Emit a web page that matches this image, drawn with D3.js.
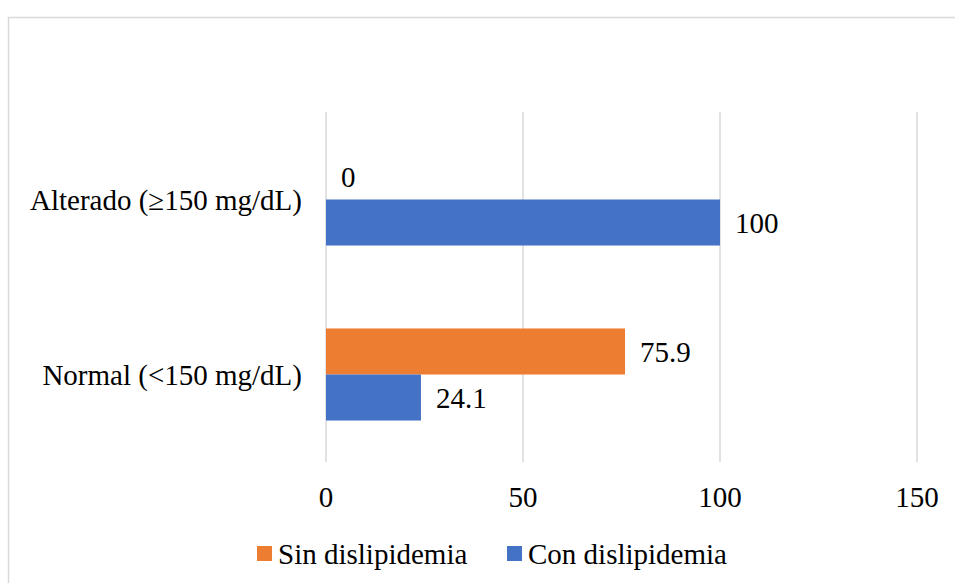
<!DOCTYPE html>
<html>
<head>
<meta charset="utf-8">
<script src="https://cdn.jsdelivr.net/npm/d3@7"></script>
<style>
	body { margin:0; background:#fff; }
</style>
</head>
<body>
<div id="chart"></div>
<script>
(function(){
	var width = 955,
	height = 583;

	// data
	var categories = ["Alterado (\u2265150 mg/dL)", "Normal (<150 mg/dL)"];
	var seriesNames = ["Sin dislipidemia", "Con dislipidemia"];
	var sinValues = [0, 75.9];
	var conValues = [100, 24.1];
	var tickValues = [0, 50, 100, 150];
	var colors = ["#ed7d31", "#4472c4"];

	var font = "Liberation Serif, Times New Roman, Times, serif";
	var fs = 29;

	var svg = d3.select("#chart")
		.append("svg")
		.attr("width", width)
		.attr("height", height)
		.attr("font-family", font)

	// outer border of chart area
	svg.append("rect")
		.attr("x", 8.5)
		.attr("y", 17.5)
		.attr("width", 960)
		.attr("height", 600)
		.attr("fill", "none")
		.attr("stroke", "#d9d9d9")
		.attr("stroke-width", 1.5)

	var x = d3.scaleLinear()
		.domain([0, 150])
		.range([326, 917])

	var y = d3.scaleBand()
		.domain(categories)
		.range([112, 462])
		.paddingInner(0.474)
		.paddingOuter(0.237)

	var inner = d3.scaleBand()
		.domain(seriesNames)
		.range([0, y.bandwidth()])

	// gridlines
	svg.selectAll(".grid")
		.data(tickValues)
		.enter().append("line")
		.attr("class", "grid")
		.attr("x1", function(d){ return x(d); })
		.attr("x2", function(d){ return x(d); })
		.attr("y1", 112)
		.attr("y2", 462)
		.attr("stroke", "#d9d9d9")
		.attr("stroke-width", 1.5)

	// x tick labels
	svg.selectAll(".xtick")
		.data(tickValues)
		.enter().append("text")
		.attr("class", "xtick")
		.attr("x", function(d){ return x(d); })
		.attr("y", 507)
		.attr("text-anchor", "middle")
		.attr("font-size", fs)
		.text(function(d){ return d; })

	// category labels
	svg.selectAll(".cat")
		.data(categories)
		.enter().append("text")
		.attr("class", "cat")
		.attr("x", 302)
		.attr("y", function(d){ return y(d) + y.bandwidth()/2; })
		.attr("dy", "0.35em")
		.attr("text-anchor", "end")
		.attr("font-size", fs)
		.text(function(d){ return d; })

	var rows = [];
	categories.forEach(function(c, i){
		rows.push({cat:c, series:seriesNames[0], value:sinValues[i], color:colors[0]});
		rows.push({cat:c, series:seriesNames[1], value:conValues[i], color:colors[1]});
	});

	svg.selectAll(".bar")
		.data(rows)
		.enter().append("rect")
		.attr("class", "bar")
		.attr("x", x(0))
		.attr("y", function(d){ return y(d.cat) + inner(d.series); })
		.attr("width", function(d){ return x(d.value) - x(0); })
		.attr("height", inner.bandwidth())
		.attr("fill", function(d){ return d.color; })

	svg.selectAll(".lbl")
		.data(rows)
		.enter().append("text")
		.attr("class", "lbl")
		.attr("x", function(d){ return x(d.value) + 15; })
		.attr("y", function(d){ return y(d.cat) + inner(d.series) + inner.bandwidth()/2; })
		.attr("dy", "0.35em")
		.attr("font-size", fs)
		.text(function(d){ return d.value; })

	// legend
	var legendX = [257, 507];
	var legend = svg.selectAll(".legend")
		.data(seriesNames)
		.enter().append("g")
		.attr("class", "legend")
		.attr("transform", function(d, i){ return "translate(" + legendX[i] + ",546)"; })

	legend.append("rect")
		.attr("width", 15)
		.attr("height", 15)
		.attr("fill", function(d, i){ return colors[i]; })

	legend.append("text")
		.attr("x", 21)
		.attr("y", 7.5)
		.attr("dy", "0.35em")
		.attr("font-size", fs)
		.text(function(d){ return d; })
})();
</script>
</body>
</html>
